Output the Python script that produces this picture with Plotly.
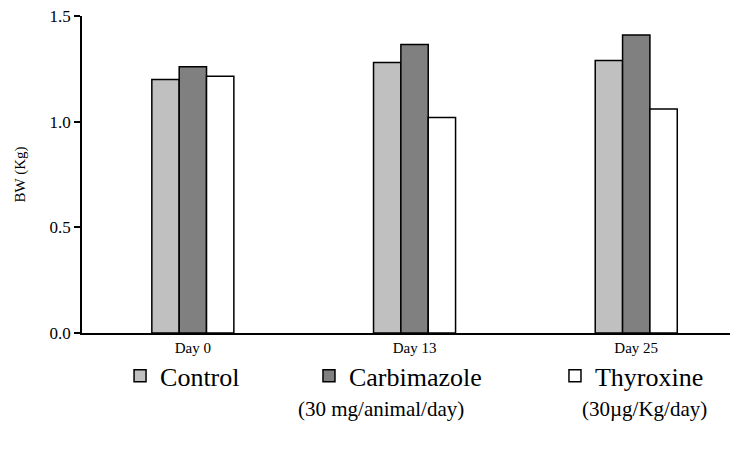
import plotly.graph_objects as go

days = ["Day 0", "Day 13", "Day 25"]
series_names = ["Control", "Carbimazole", "Thyroxine"]
control = [1.20, 1.28, 1.29]
carbimazole = [1.26, 1.365, 1.41]
thyroxine = [1.215, 1.02, 1.06]
y_ticks = [0.0, 0.5, 1.0, 1.5]
y_ticklabels = ["0.0", "0.5", "1.0", "1.5"]
notes = ["(30 mg/animal/day)", "(30\u00b5g/Kg/day)"]

colors = ["#C0C0C0", "#808080", "#FFFFFF"]
values = [control, carbimazole, thyroxine]
legend_ids = ["legend", "legend2", "legend3"]
legend_x = [0.058, 0.346, 0.721]

FONT = "'Liberation Serif', 'Times New Roman', Times, serif"

fig = go.Figure()
for name, vals, col, lid in zip(series_names, values, colors, legend_ids):
    fig.add_trace(go.Bar(
        x=days, y=vals, name=name,
        marker=dict(color=col, line=dict(color="black", width=1.5)),
        legend=lid,
    ))

leg_common = dict(orientation="h", yanchor="middle", xanchor="left",
                  font=dict(family=FONT, size=26, color="black"),
                  bgcolor="rgba(0,0,0,0)", itemwidth=30)
layout_legends = {}
for lid, lx in zip(legend_ids, legend_x):
    layout_legends[lid] = dict(x=lx, y=-0.135, **leg_common)

fig.update_layout(
    width=730, height=445,
    margin=dict(l=74, r=0, t=8, b=120),
    plot_bgcolor="white", paper_bgcolor="white",
    barmode="group", bargap=0.63, bargroupgap=0,
    font=dict(family=FONT, color="black"),
    showlegend=True,
    **layout_legends,
    xaxis=dict(range=[-0.5, 2.459], showline=True, linecolor="black", linewidth=1.5,
               ticks="", tickfont=dict(family=FONT, size=15), showgrid=False,
               zeroline=False),
    yaxis=dict(range=[0, 1.5001], tickvals=y_ticks, ticktext=y_ticklabels,
               showline=True, linecolor="black", linewidth=1.5,
               ticks="outside", ticklen=6, tickwidth=1.5, tickcolor="black",
               ticklabeloverflow="allow",
               tickfont=dict(family=FONT, size=17), showgrid=False, zeroline=False,
               title=dict(text="BW (Kg)", font=dict(family=FONT, size=15), standoff=20)),
)

fig.add_annotation(text=notes[0], xref="paper", yref="paper", x=0.456, y=-0.24,
                   showarrow=False, font=dict(family=FONT, size=21), xanchor="center", yanchor="middle")
fig.add_annotation(text=notes[1], xref="paper", yref="paper", x=0.858, y=-0.24,
                   showarrow=False, font=dict(family=FONT, size=21), xanchor="center", yanchor="middle")

fig.write_html("out.html")
